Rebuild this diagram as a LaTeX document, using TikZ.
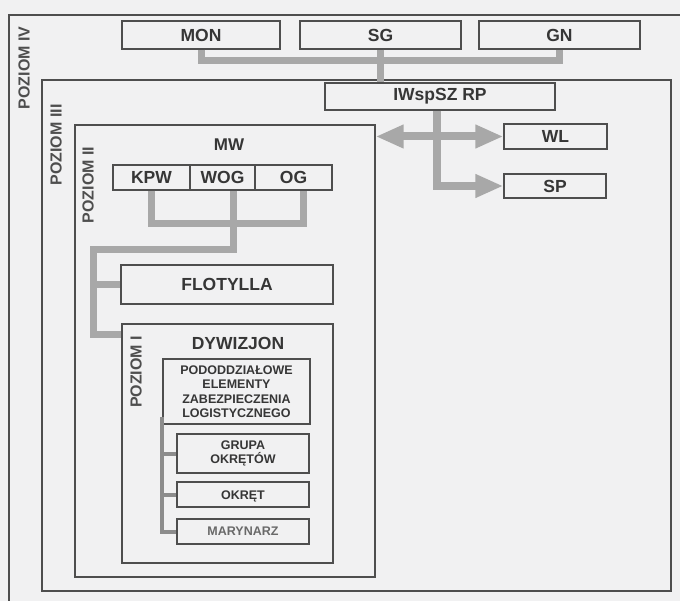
\documentclass[tikz,border=0pt]{standalone}
\usepackage{fontspec}
\setmainfont{Liberation Sans}
\usetikzlibrary{arrows.meta}
\definecolor{bg}{HTML}{F1F1F2}
\definecolor{ln}{HTML}{4E4E4E}
\definecolor{barc}{HTML}{A8A8A8}
\definecolor{dbar}{HTML}{8C8C8C}
\definecolor{txt}{HTML}{363636}
\begin{document}
\begin{tikzpicture}[x=1pt,y=-1pt,
  frm/.style={draw=ln, line width=1.7pt, anchor=north west, inner sep=0pt},
  box/.style={draw=ln, line width=1.4pt, fill=bg, text=txt, inner sep=0pt, align=center,
     font=\bfseries\fontsize{17.5}{19}\selectfont},
  sbox/.style={box, font=\bfseries\fontsize{12.5}{14.5}\selectfont},
  lbl/.style={text=txt, inner sep=0pt, font=\bfseries\fontsize{17}{19}\selectfont},
  lvl/.style={rotate=90, text=ln, inner sep=0pt, font=\bfseries\fontsize{16}{18}\selectfont},
  barl/.style={draw=barc, line width=7pt},
  dline/.style={draw=dbar, line width=4pt},
  arr/.style={draw=barc, line width=8pt, >={Triangle[length=28pt,width=22pt]}}
]
\useasboundingbox (0,0) rectangle (680,601);
\clip (0,0) rectangle (680,601);
\fill[bg] (0,0) rectangle (680,601);

% frames
\node[frm, minimum width=700pt, minimum height=620pt] (f4) at (8,14) {};
\node[frm, minimum width=629pt, minimum height=511pt] (f3) at (41,79) {};
\node[frm, minimum width=300pt, minimum height=452pt] (f2) at (74,124) {};
\node[frm, minimum width=211pt, minimum height=239pt] (f1) at (121,323) {};

% level labels
\node[lvl] (p4) at (24,68) {POZIOM IV};
\node[lvl] (p3) at (56,145) {POZIOM III};
\node[lvl] (p2) at (88,185) {POZIOM II};
\node[lvl] (p1) at (136,372) {POZIOM I};

\coordinate (j1) at (233,224);
\coordinate (k) at (93,250);
\coordinate (bl) at (200,61);

% top boxes
\node[box, minimum width=158pt, minimum height=28pt] (MON) at (201,35) {MON};
\node[box, minimum width=161pt, minimum height=28pt] (SG) at (380.5,35) {SG};
\node[box, minimum width=161pt, minimum height=28pt] (GN) at (559.5,35) {GN};
\node[box, minimum width=230pt, minimum height=27pt] (IW) at (440,96.5) {IWspSZ RP};
\node[box, minimum width=103pt, minimum height=25pt] (WL) at (555.5,136.5) {WL};
\node[box, minimum width=102pt, minimum height=24pt] (SP) at (555,186) {SP};

\draw[barl] (MON.south) -- (MON.south |- bl) -- (bl -| GN.south) -- (GN.south);
\draw[barl] (SG.south) -- (SG.south |- IW.north);

% MW group
\node[lbl] (MW) at (229,145) {MW};
\node[box, minimum width=77pt, minimum height=25pt] (KPW) at (151.5,177.5) {KPW};
\node[box, minimum width=65pt, minimum height=25pt] (WOG) at (222.5,177.5) {WOG};
\node[box, minimum width=77pt, minimum height=25pt] (OG) at (293.5,177.5) {OG};
\node[box, minimum width=212pt, minimum height=39pt] (FLO) at (227,284.5) {FLOTYLLA};

\coordinate (ogc) at ([xshift=9.5pt]OG.south);
\coordinate (wogc) at ([xshift=10.5pt]WOG.south);
\draw[barl] (KPW.south) -- (KPW.south |- j1) -- (j1 -| ogc) -- (ogc);
\draw[barl] (wogc) |- (k) |- ([yshift=-12pt]f1.north west);
\draw[barl] (k |- FLO.west) -- (FLO.west);

% DYWIZJON
\node[lbl, font=\bfseries\fontsize{17.5}{19}\selectfont] (DYW) at (238,343) {DYWIZJON};
\node[sbox, minimum width=147pt, minimum height=65pt] (POD) at (236.5,391.5)
  {PODODDZIAŁOWE\\ELEMENTY\\ZABEZPIECZENIA\\LOGISTYCZNEGO};
\node[sbox, minimum width=132pt, minimum height=39pt] (GRU) at (243,453.5) {GRUPA\\OKRĘTÓW};
\node[sbox, minimum width=132pt, minimum height=25pt, text height=9pt, text depth=0pt] (OKR) at (243,494.5) {OKRĘT};
\node[sbox, minimum width=132pt, minimum height=25pt, text=ln!85] (MAR) at (243,531.5) {MARYNARZ};

\draw[dline] ([yshift=8pt]POD.south west) -- (POD.south west |- MAR.west) -- (MAR.west);
\draw[dline] (POD.south west |- GRU.west) -- (GRU.west);
\draw[dline] (POD.south west |- OKR.west) -- (OKR.west);

% arrows from IWspSZ RP
\draw[arr, <->] (f2.east |- WL.west) -- (WL.west);
\draw[arr, ->] ([xshift=-3pt]IW.south) |- (SP.west);
\end{tikzpicture}
\end{document}
